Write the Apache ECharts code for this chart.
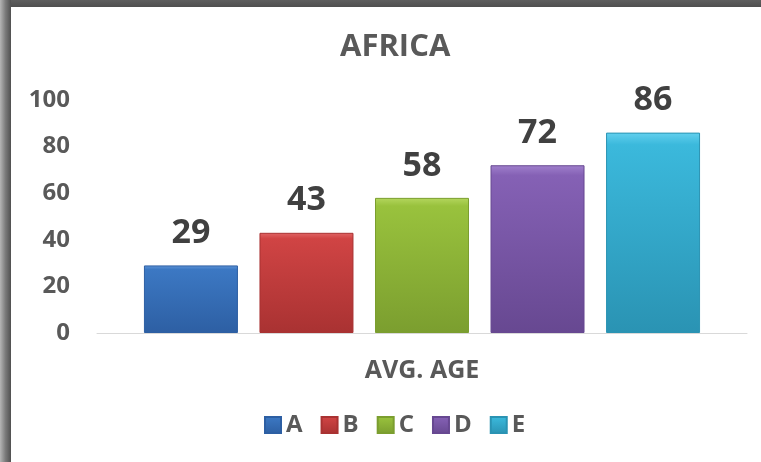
<!DOCTYPE html>
<html>
<head>
<meta charset="utf-8">
<script src="https://cdn.jsdelivr.net/npm/echarts@6/dist/echarts.min.js"></script>
<style>
  html, body { margin: 0; padding: 0; background: #fff; }
  #main { width: 761px; height: 462px; }
</style>
</head>
<body>
<div id="main"></div>
<script>
// data
var categories = ['AVG. AGE'];
var seriesNames = ['A', 'B', 'C', 'D', 'E'];
var seriesValues = [[29], [43], [58], [72], [86]];
var yTicks = { min: 0, max: 100, interval: 20 };

// light / mid / dark shades per series (bevelled look)
var shades = [
    ['#5f95d8', '#3c78c3', '#2d5fa3'],
    ['#e06464', '#d04444', '#a93232'],
    ['#b4d65e', '#99c23d', '#7b9e2f'],
    ['#a080cc', '#8561b5', '#674891'],
    ['#63d0ee', '#3bb9dc', '#2a93b3']
];

function grad(s) {
    return new echarts.graphic.LinearGradient(0, 0, 0, 1, [
        { offset: 0, color: s[0] },
        { offset: 0.06, color: s[1] },
        { offset: 1, color: s[2] }
    ]);
}

var chart = echarts.init(document.getElementById('main'));

var series = seriesNames.map(function (name, i) {
    return {
        name: name,
        type: 'bar',
        data: seriesValues[i],
        barWidth: 94,
        barGap: '22.9%',
        itemStyle: {
            color: grad(shades[i]),
            borderColor: shades[i][2],
            borderWidth: 1
        },
        label: {
            show: true,
            position: 'top',
            distance: 15,
            color: '#404040',
            fontFamily: 'Open Sans',
            fontWeight: 'bold',
            fontSize: 34
        }
    };
});

chart.setOption({
    animation: false,
    backgroundColor: '#ffffff',
    textStyle: { fontFamily: 'Open Sans' },
    title: {
        text: 'AFRICA',
        left: 335,
        top: 27,
        textStyle: { color: '#595959', fontWeight: 'bold', fontSize: 31, fontFamily: 'Open Sans' }
    },
    legend: {
        data: seriesNames.map(function (n, i) {
            return { name: n, itemStyle: { color: grad(shades[i]) } };
        }),
        icon: 'rect',
        left: 259,
        top: 408,
        itemWidth: 16,
        itemHeight: 16,
        itemGap: 18,
        textStyle: { color: '#595959', fontWeight: 'bold', fontSize: 24, fontFamily: 'Open Sans' }
    },
    grid: { left: 97, right: 14, top: 100, bottom: 129 },
    xAxis: {
        type: 'category',
        data: categories,
        axisLine: { lineStyle: { color: '#d9d9d9', width: 1 } },
        axisTick: { show: false },
        axisLabel: { color: '#595959', fontWeight: 'bold', fontSize: 25, margin: 25, fontFamily: 'Open Sans' }
    },
    yAxis: {
        type: 'value',
        min: yTicks.min,
        max: yTicks.max,
        interval: yTicks.interval,
        axisLine: { show: false },
        axisTick: { show: false },
        splitLine: { show: false },
        axisLabel: { color: '#595959', fontWeight: 'bold', fontSize: 24, margin: 27, fontFamily: 'Open Sans' }
    },
    graphic: [
        {
            type: 'rect', left: 0, top: 0, z: 100,
            shape: { width: 761, height: 7 },
            style: { fill: new echarts.graphic.LinearGradient(0, 0, 0, 1, [
                { offset: 0, color: '#5e5e5e' }, { offset: 1, color: '#4f4f4f' }]) }
        },
        {
            type: 'rect', left: 0, top: 0, z: 100,
            shape: { width: 11, height: 462 },
            style: { fill: new echarts.graphic.LinearGradient(0, 0, 1, 0, [
                { offset: 0, color: '#b5b5b5' }, { offset: 0.5, color: '#7a7a7a' }, { offset: 1, color: '#505050' }]) }
        }
    ],
    series: series
});
</script>
</body>
</html>
